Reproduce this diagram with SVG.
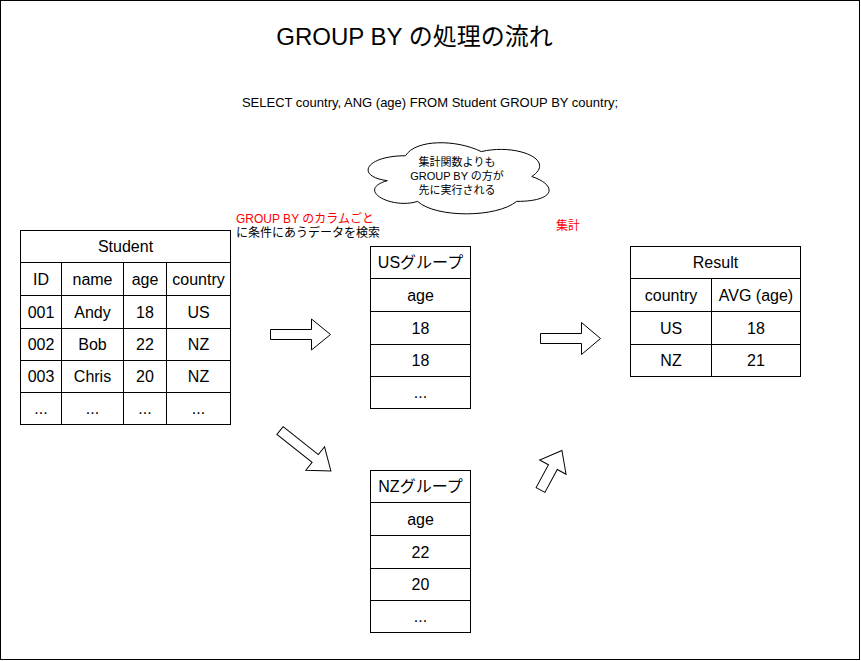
<svg xmlns="http://www.w3.org/2000/svg" width="861" height="661" viewBox="0 0 861 661">
<style>
text{font-family:"Liberation Sans","Noto Sans CJK JP",Arial,sans-serif;fill:#000;}
.c{text-anchor:middle;dominant-baseline:central;font-size:16px;}
.cell{fill:#fff;stroke:#000;stroke-width:1;}
.ln{stroke:#000;stroke-width:1;fill:none;}
.arrow{fill:#fff;stroke:#000;stroke-width:1;stroke-linejoin:miter;}
.red{fill:#ff0000;}
</style>
<rect x="0.5" y="0.5" width="859" height="659" fill="#fff" stroke="#000"/>
<g id="title">
<text x="414.5" y="45" text-anchor="middle" font-size="24">GROUP BY の処理の流れ</text>
</g>
<g id="sql">
<text x="430" y="106.5" text-anchor="middle" font-size="13">SELECT country, ANG (age) FROM Student GROUP BY country;</text>
</g>
<g id="cloud">
<path class="cell" d="M405.5,155.75 C365.1,155.75 355,176.5 387.3,180.65 C355,189.8 391.4,209.7 417.6,201.4 C435.8,218 496.4,218 516.6,201.4 C557,201.4 557,184.8 531.75,176.5 C557,159.9 516.6,143.3 481.25,151.6 C456,139.15 415.6,139.15 405.5,155.75 Z"/>
<text x="457" y="165.5" text-anchor="middle" font-size="11">集計関数よりも</text>
<text x="457" y="179.5" text-anchor="middle" font-size="11">GROUP BY の方が</text>
<text x="457" y="193.5" text-anchor="middle" font-size="11">先に実行される</text>
</g>
<g id="note-search">
<text x="236" y="223" font-size="12" class="red">GROUP BY のカラムごと</text>
<text x="236" y="237" font-size="12">に条件にあうデータを検索</text>
</g>
<g id="note-agg">
<text x="556" y="230" font-size="12" class="red">集計</text>
</g>
<g id="student">
<rect class="cell" x="20.5" y="230.5" width="210" height="194"/>
<path class="ln" d="M20.5,262.5H230.5M20.5,295.5H230.5M20.5,328.5H230.5M20.5,360.5H230.5M20.5,392.5H230.5M61.5,262.5V424.5M123.5,262.5V424.5M166.5,262.5V424.5"/>
<text class="c" x="125.5" y="246.5">Student</text>
<text class="c" x="41" y="279">ID</text>
<text class="c" x="92.5" y="279">name</text>
<text class="c" x="145" y="279">age</text>
<text class="c" x="198.5" y="279">country</text>
<text class="c" x="41" y="312">001</text>
<text class="c" x="92.5" y="312">Andy</text>
<text class="c" x="145" y="312">18</text>
<text class="c" x="198.5" y="312">US</text>
<text class="c" x="41" y="344.5">002</text>
<text class="c" x="92.5" y="344.5">Bob</text>
<text class="c" x="145" y="344.5">22</text>
<text class="c" x="198.5" y="344.5">NZ</text>
<text class="c" x="41" y="376.5">003</text>
<text class="c" x="92.5" y="376.5">Chris</text>
<text class="c" x="145" y="376.5">20</text>
<text class="c" x="198.5" y="376.5">NZ</text>
<text class="c" x="41" y="408.5">...</text>
<text class="c" x="92.5" y="408.5">...</text>
<text class="c" x="145" y="408.5">...</text>
<text class="c" x="198.5" y="408.5">...</text>
</g>
<g id="us-group">
<rect class="cell" x="370.5" y="246.5" width="100" height="162"/>
<path class="ln" d="M370.5,278.5H470.5M370.5,311.5H470.5M370.5,344.5H470.5M370.5,376.5H470.5"/>
<text class="c" x="420.5" y="262.5">USグループ</text>
<text class="c" x="420.5" y="295">age</text>
<text class="c" x="420.5" y="328">18</text>
<text class="c" x="420.5" y="360.5">18</text>
<text class="c" x="420.5" y="392.5">...</text>
</g>
<g id="nz-group">
<rect class="cell" x="370.5" y="470.5" width="100" height="162"/>
<path class="ln" d="M370.5,502.5H470.5M370.5,535.5H470.5M370.5,568.5H470.5M370.5,600.5H470.5"/>
<text class="c" x="420.5" y="486.5">NZグループ</text>
<text class="c" x="420.5" y="519">age</text>
<text class="c" x="420.5" y="552">22</text>
<text class="c" x="420.5" y="584.5">20</text>
<text class="c" x="420.5" y="616.5">...</text>
</g>
<g id="result">
<rect class="cell" x="630.5" y="246.5" width="170" height="130"/>
<path class="ln" d="M630.5,278.5H800.5M630.5,311.5H800.5M630.5,344.5H800.5M711.5,278.5V376.5"/>
<text class="c" x="715.5" y="262.5">Result</text>
<text class="c" x="671" y="295">country</text>
<text class="c" x="756" y="295">AVG (age)</text>
<text class="c" x="671" y="328">US</text>
<text class="c" x="756" y="328">18</text>
<text class="c" x="671" y="360.5">NZ</text>
<text class="c" x="756" y="360.5">21</text>
</g>
<g id="connectors">
<polygon class="arrow" points="270.5,329.5 311.5,329.5 311.5,319 330.5,334.5 311.5,350 311.5,339.5 270.5,339.5"/>
<polygon class="arrow" points="540.5,333.5 581.5,333.5 581.5,322.5 600.5,338.5 581.5,354.5 581.5,343.5 540.5,343.5"/>
<polygon class="arrow" transform="translate(280,430.5) rotate(38.5)" points="0,-5 45,-5 45,-15 65,0 45,15 45,5 0,5"/>
<polygon class="arrow" transform="translate(540.5,490) rotate(-61.6)" points="0,-5 26,-5 26,-15 45,0 26,15 26,5 0,5"/>
</g>
</svg>
